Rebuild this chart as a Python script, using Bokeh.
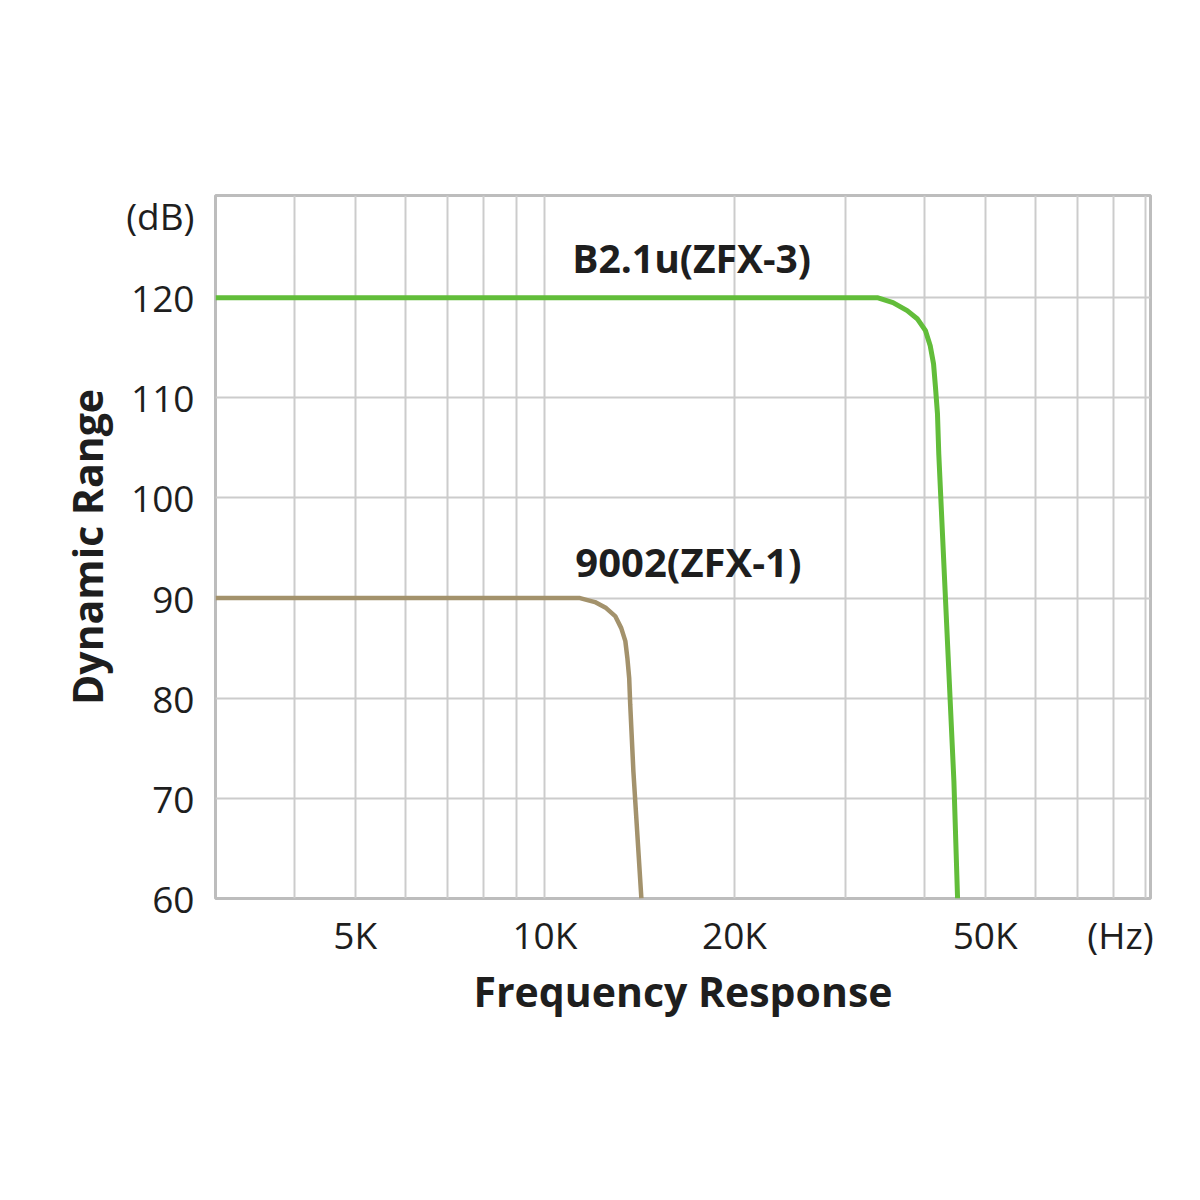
from bokeh.plotting import figure
from bokeh.models import Range1d, FixedTicker, Label
from bokeh.embed import file_html
from bokeh.resources import INLINE

# ---- data ----
x_tick_values = [5000, 10000, 20000, 50000, 82000]
x_tick_labels = ["5K", "10K", "20K", "50K", "(Hz)"]
x_grid_values = [3000, 4000, 5000, 6000, 7000, 8000, 9000, 10000,
                 20000, 30000, 40000, 50000, 60000, 70000, 80000, 90000]
y_grid_values = [60, 70, 80, 90, 100, 110, 120]
y_tick_values = [60, 70, 80, 90, 100, 110, 120, 128.2]
y_tick_labels = ["60", "70", "80", "90", "100", "110", "120", "(dB)"]

b21u_name = "B2.1u(ZFX-3)"
b21u_freq = [3000, 10000, 20000, 33700, 35700, 37600, 39000, 40200, 40900,
             41400, 41700, 42000, 42200, 44600, 45200]
b21u_db = [120, 120, 120, 120, 119.5, 118.7, 117.9, 116.7, 115.2,
           113.4, 111.0, 108.4, 104.4, 71.7, 60]

n9002_name = "9002(ZFX-1)"
n9002_freq = [3000, 6000, 11370, 12010, 12510, 12930, 13220, 13420,
              13520, 13610, 13660, 13820, 14230]
n9002_db = [90, 90, 90, 89.6, 89, 88.2, 87, 85.7,
            84, 82, 79.4, 72.7, 60]

FONT = "Open Sans"
TXT = "#1e1e1e"

p = figure(width=1184, height=1184, x_axis_type="log",
           x_range=Range1d(3000, 91500), y_range=Range1d(60, 130.2),
           output_backend="svg", toolbar_location=None,
           min_border_left=215, min_border_right=34,
           min_border_top=195, min_border_bottom=286)

p.background_fill_color = "white"
p.border_fill_color = "white"
p.outline_line_color = "#bdbdbd"
p.outline_line_width = 3

# grids
p.xgrid.ticker = FixedTicker(ticks=x_grid_values)
p.ygrid.ticker = FixedTicker(ticks=y_grid_values)
for g in (p.xgrid, p.ygrid):
    g.grid_line_color = "#cccccc"
    g.grid_line_width = 2

# axes
p.xaxis.ticker = FixedTicker(ticks=x_tick_values)
p.xaxis.major_label_overrides = {v: l for v, l in zip(x_tick_values, x_tick_labels)}
p.yaxis.ticker = FixedTicker(ticks=y_tick_values)
p.yaxis.major_label_overrides = {v: l for v, l in zip(y_tick_values, y_tick_labels)}
p.xaxis.axis_label = "Frequency Response"
p.yaxis.axis_label = "Dynamic Range"
for ax in (p.xaxis, p.yaxis):
    ax.axis_line_color = None
    ax.major_tick_line_color = None
    ax.minor_tick_line_color = None
    ax.major_label_text_font = FONT
    ax.major_label_text_font_size = "37px"
    ax.major_label_text_color = TXT
    ax.axis_label_text_font = FONT
    ax.axis_label_text_font_size = "41px"
    ax.axis_label_text_font_style = "bold"
    ax.axis_label_text_color = TXT
p.xaxis.major_label_standoff = 4
p.yaxis.major_label_standoff = 15
p.xaxis.axis_label_standoff = 0
p.yaxis.axis_label_standoff = 8

# curves
p.line(n9002_freq, n9002_db, line_color="#a3926c", line_width=4.5)
p.line(b21u_freq, b21u_db, line_color="#62bd3a", line_width=5)

# series labels
p.add_layout(Label(x=17100, y=124.0, text=b21u_name, text_align="center",
                   text_baseline="middle", text_font=FONT, text_font_size="39px",
                   text_font_style="bold", text_color=TXT))
p.add_layout(Label(x=16900, y=93.7, text=n9002_name, text_align="center",
                   text_baseline="middle", text_font=FONT, text_font_size="40px",
                   text_font_style="bold", text_color=TXT))

open("out.html", "w").write(file_html(p, INLINE))
